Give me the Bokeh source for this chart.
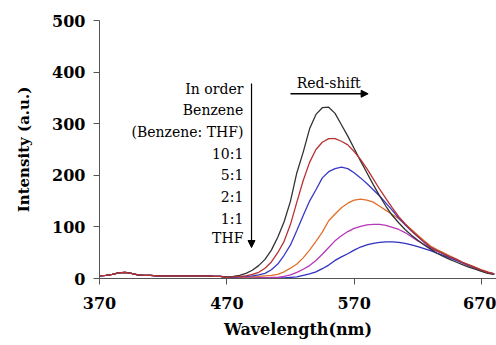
from bokeh.plotting import figure
from bokeh.models import Arrow, NormalHead, FixedTicker
from bokeh.core.properties import value
from bokeh.embed import file_html
from bokeh.resources import INLINE

# ---- data ----
wl_base = [370, 375, 380, 385, 390, 395, 400, 405, 410, 415, 420, 425, 430, 435, 440, 445, 450, 455, 460, 465]
base_i = [5, 6, 8, 11, 12, 10, 7, 6, 6, 5, 5, 5, 5, 5, 5, 5, 5, 5, 4, 4]

wl = [470, 475, 480, 485, 490, 495, 500, 505, 510, 515, 520, 525, 530, 535, 540, 545, 550, 555,
      560, 565, 570, 575, 580, 585, 590, 595, 600, 605, 610, 615, 620, 625, 630, 635, 640, 645,
      650, 655, 660, 665, 670, 675, 680]

benzene = [3, 4, 6, 10, 16, 25, 37, 55, 80, 110, 150, 205, 245, 290, 318, 331, 332, 320,
           298, 276, 252, 228, 205, 182, 160, 140, 122, 108, 95, 84, 74, 65, 57, 49, 43, 37,
           32, 27, 22, 18, 14, 10, 8]
r10_1 = [2, 3, 4, 5, 8, 12, 20, 32, 50, 72, 105, 148, 190, 225, 250, 264, 271, 271,
         266, 259, 246, 231, 213, 193, 173, 155, 137, 120, 106, 93, 82, 71, 61, 54, 48, 42,
         37, 31, 26, 21, 16, 12, 9]
r5_1 = [2, 2, 3, 4, 5, 7, 10, 17, 28, 45, 65, 93, 122, 150, 172, 195, 207, 213,
        216, 213, 205, 195, 184, 172, 160, 146, 132, 117, 104, 92, 81, 70, 60, 54, 48, 42,
        37, 31, 26, 21, 16, 12, 9]
r2_1 = [1, 2, 2, 3, 3, 4, 5, 6, 8, 13, 20, 28, 40, 55, 72, 90, 112, 125,
        137, 146, 152, 154, 152, 148, 140, 132, 124, 116, 105, 95, 84, 73, 63, 56, 50, 44,
        38, 32, 27, 22, 17, 13, 9]
r1_1 = [1, 1, 1, 1, 1, 1, 1, 2, 2, 4, 7, 12, 18, 25, 35, 47, 60, 73,
        83, 91, 97, 101, 104, 105, 105, 103, 99, 95, 89, 81, 73, 66, 58, 53, 48, 42,
        37, 31, 26, 21, 16, 12, 9]
thf = [1, 1, 1, 1, 1, 1, 1, 1, 1, 1, 2, 3, 6, 9, 13, 19, 26, 35,
       42, 48, 55, 61, 65, 68, 70, 71, 71, 70, 68, 65, 62, 58, 54, 49, 45, 40,
       35, 30, 25, 20, 15, 11, 8]

series_names = ["Benzene", "10:1", "5:1", "2:1", "1:1", "THF"]
series_vals = [benzene, r10_1, r5_1, r2_1, r1_1, thf]
series_colors = ["#333333", "#b83232", "#3838c8", "#e0702a", "#b836b8", "#3030c0"]

y_ticks = [0, 100, 200, 300, 400, 500]
x_ticks = [370, 470, 570, 670]

legend_lines = ["In order", "Benzene", "(Benzene: THF)", "10:1", "5:1", "2:1", "1:1", "THF"]

FONT = "DejaVu Serif"

p = figure(width=496, height=345, output_backend="svg", toolbar_location=None,
           x_range=(370, 681.8), y_range=(0, 500),
           min_border_left=99, min_border_right=0, min_border_top=20, min_border_bottom=67)
p.outline_line_color = None
p.xgrid.visible = False
p.ygrid.visible = False
p.background_fill_color = "white"
p.border_fill_color = "white"

# draw THF first so red ends up on top of the baseline
order = [5, 4, 3, 2, 0, 1]
for k in order:
    xs = wl_base + wl
    ys = base_i + series_vals[k]
    p.line(xs, ys, line_color=series_colors[k], line_width=1.3)

for ax in (p.xaxis[0], p.yaxis[0]):
    ax.major_label_text_font = FONT
    ax.major_label_text_font_style = "bold"
    ax.major_label_text_font_size = "16px"
    ax.major_label_text_color = "black"
    ax.axis_label_text_font = FONT
    ax.axis_label_text_font_style = "bold"
    ax.axis_label_text_color = "black"
    ax.axis_line_color = "#555555"
    ax.major_tick_line_color = "#555555"
    ax.major_tick_out = 6
    ax.major_tick_in = 0
    ax.minor_tick_line_color = None

p.xaxis.ticker = FixedTicker(ticks=x_ticks)
p.yaxis.ticker = FixedTicker(ticks=y_ticks)
p.xaxis.axis_label = "Wavelength(nm)"
p.yaxis.axis_label = "Intensity (a.u.)"
p.xaxis.axis_label_text_font_size = "16px"
p.yaxis.axis_label_text_font_size = "15px"
p.xaxis.major_label_standoff = 12
p.yaxis.major_label_standoff = 8
p.xaxis.axis_label_standoff = 8
p.yaxis.axis_label_standoff = 16

# annotation text column
label_y = [368, 326, 283, 242, 200, 157, 116, 78]
p.text(x=[483] * len(legend_lines), y=label_y, text=legend_lines,
       text_align="right", text_baseline="middle",
       text_font=value(FONT), text_font_size="14px", text_color="black")

p.add_layout(Arrow(end=NormalHead(size=7, fill_color="black", line_color="black"),
                   x_start=489.4, y_start=378, x_end=489.4, y_end=60,
                   line_color="black", line_width=1.2))
p.add_layout(Arrow(end=NormalHead(size=7, fill_color="black", line_color="black"),
                   x_start=520, y_start=358, x_end=581, y_end=358,
                   line_color="black", line_width=1.5))
p.text(x=[550], y=[378], text=["Red-shift"], text_align="center", text_baseline="middle",
       text_font=value(FONT), text_font_size="14px", text_color="black")

open("out.html", "w").write(file_html(p, INLINE))
